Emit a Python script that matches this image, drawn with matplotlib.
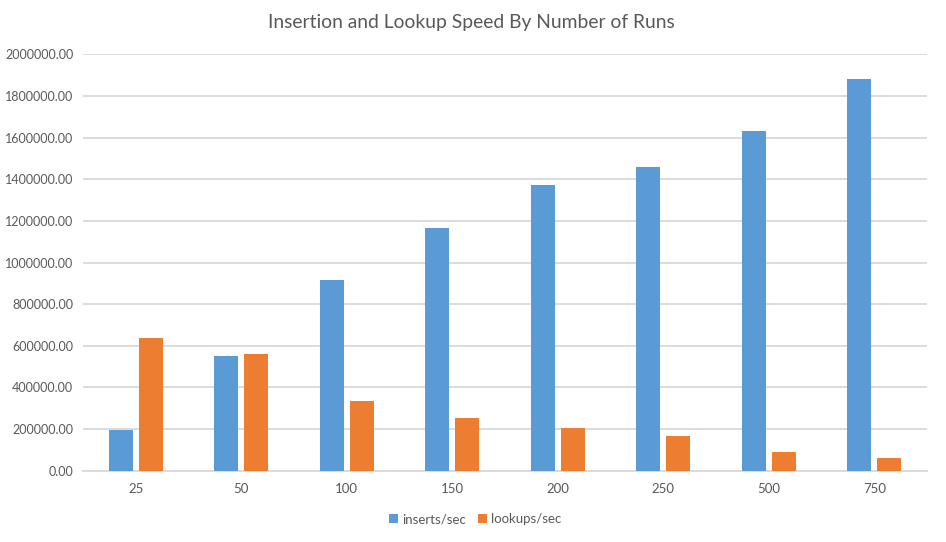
import matplotlib.pyplot as plt
import numpy as np

plt.rcParams['font.family'] = ['Lato', 'DejaVu Sans']

# ======== data ========
runs = ['25', '50', '100', '150', '200', '250', '500', '750']
inserts = [193700, 549500, 918000, 1164000, 1374000, 1460000, 1632000, 1880000]
lookups = [636000, 559000, 336000, 251000, 203000, 165000, 89000, 60000]
yticks = np.arange(0, 2000001, 200000)

blue = '#5B9BD5'
orange = '#ED7D31'
text_col = '#595959'
grid_col = '#D9D9D9'

fig = plt.figure(figsize=(9.46, 5.42), dpi=100)
ax = fig.add_axes([0.0877, 0.1315, 0.8923, 0.7683])

x = np.arange(len(runs))
w = 0.227
off = 0.142
ax.bar(x - off, inserts, w, color=blue, label='inserts/sec', zorder=3)
ax.bar(x + off, lookups, w, color=orange, label='lookups/sec', zorder=3)

ax.set_xlim(-0.5, len(runs) - 0.5)
ax.set_ylim(0, 2000000)
ax.set_yticks(yticks)
ax.set_yticklabels([f'{v:.2f}' for v in yticks], fontsize=9, color=text_col)
ax.set_xticks(x)
ax.set_xticklabels(runs, fontsize=9.5, color=text_col)
ax.tick_params(axis='both', length=0)
ax.tick_params(axis='y', pad=7)
ax.tick_params(axis='x', pad=9)

ax.grid(axis='y', color=grid_col, linewidth=1.3, zorder=0)
for s in ['top', 'right', 'left']:
    ax.spines[s].set_visible(False)
ax.spines['bottom'].set_color(grid_col)
ax.spines['bottom'].set_linewidth(1.3)

# title centred on the whole figure, like the spreadsheet chart
fig.text(0.498, 0.958, 'Insertion and Lookup Speed By Number of Runs',
         ha='center', va='center', fontsize=13.9, color=text_col)

leg = fig.legend(loc='center', bbox_to_anchor=(0.502, 0.042), ncol=2,
                 frameon=False, fontsize=9.5, handlelength=0.7, handleheight=0.7,
                 handletextpad=0.3, columnspacing=0.9)
for t in leg.get_texts():
    t.set_color(text_col)

plt.savefig('out.png', dpi=100, facecolor='white')
